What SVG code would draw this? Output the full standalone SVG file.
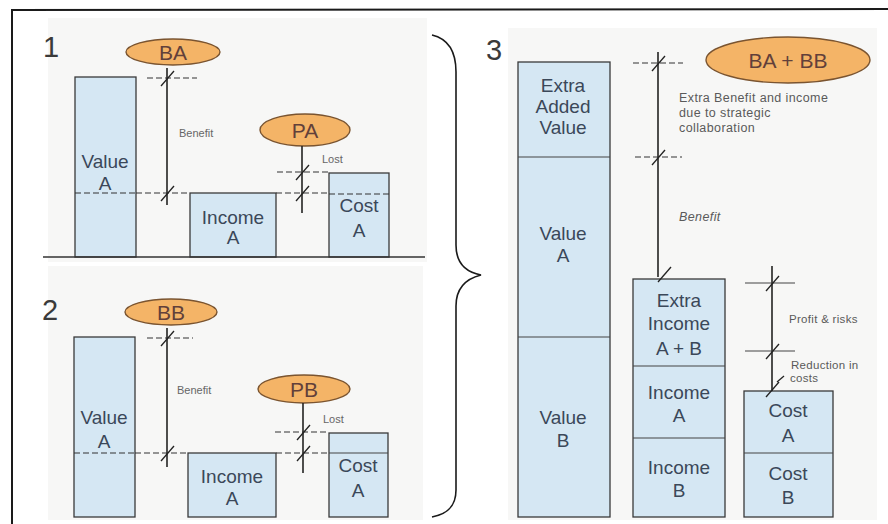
<svg xmlns="http://www.w3.org/2000/svg" width="888" height="524" viewBox="0 0 888 524">
  <style>
    .bg { fill: #f7f7f6; }
    .bar { fill: #d5e7f3; stroke: #3a3a3a; stroke-width: 1.3; }
    .div { stroke: #444; stroke-width: 1.2; fill: none; }
    .dash { stroke: #333; stroke-width: 1.1; stroke-dasharray: 6 3; fill: none; }
    .dim { stroke: #222; stroke-width: 1.6; fill: none; }
    .tick { stroke: #222; stroke-width: 1.3; fill: none; }
    .oval { fill: #f4b467; stroke: #7a5430; stroke-width: 1.4; }
    .ovt { font-family: "Liberation Sans", Arial, sans-serif; font-size: 21px; fill: #62403a; text-anchor: middle; }
    .bt { font-family: "Liberation Sans", Arial, sans-serif; font-size: 19px; fill: #3b4859; text-anchor: middle; }
    .num { font-family: "Liberation Sans", Arial, sans-serif; font-size: 29px; fill: #3a3a3a; }
    .sm { font-family: "Liberation Sans", Arial, sans-serif; font-size: 11px; fill: #666; }
    .md { font-family: "Liberation Sans", Arial, sans-serif; font-size: 12.5px; fill: #5a5a5a; letter-spacing: 0.4px; }
    .lb { font-family: "Liberation Sans", Arial, sans-serif; font-size: 11.5px; fill: #5a5a5a; letter-spacing: 0.3px; }
    .frame { stroke: #1a1a1a; stroke-width: 2; fill: none; }
  </style>
  <defs>
    <!-- dimension tick: short slash through a crossing point -->
    <path id="slash" d="M -6 8 L 7 -7" class="tick"/>
  </defs>

  <rect width="888" height="524" fill="#ffffff"/>

  <!-- panel backgrounds -->
  <rect class="bg" x="48" y="18" width="379" height="244"/>
  <rect class="bg" x="48" y="266" width="375" height="254"/>
  <rect class="bg" x="508" y="28" width="369" height="492"/>

  <!-- outer frame -->
  <g id="frame">
    <path class="frame" d="M 12 524 L 12 10 L 888 9"/>
  </g>

  <!-- brace joining panels 1 and 2 into panel 3 -->
  <g id="brace">
    <path d="M 432 35 C 449 39 456 52 456 72 L 456 245 C 456 262 465 272 481 275 C 465 279 456 289 456 306 L 456 490 C 456 506 448 514 432 517" fill="none" stroke="#1a1a1a" stroke-width="1.6"/>
  </g>

  <!-- ========== Panel 1 ========== -->
  <text class="num" x="43" y="57">1</text>

  <g id="p1-value-a">
    <rect class="bar" x="75" y="77" width="61" height="180"/>
    <line class="dash" x1="75" y1="193" x2="136" y2="193"/>
    <text class="bt" x="105" y="168">Value</text>
    <text class="bt" x="105" y="190">A</text>
  </g>
  <g id="p1-income-a">
    <rect class="bar" x="190" y="193" width="86" height="64"/>
    <text class="bt" x="233" y="224">Income</text>
    <text class="bt" x="233" y="244">A</text>
  </g>
  <g id="p1-cost-a">
    <rect class="bar" x="329" y="173" width="60" height="84"/>
    <line class="dash" x1="329" y1="194" x2="389" y2="194"/>
    <text class="bt" x="359" y="212">Cost</text>
    <text class="bt" x="359" y="237">A</text>
  </g>
  <g id="p1-ba">
    <ellipse class="oval" cx="173" cy="52" rx="47" ry="13"/>
    <text class="ovt" x="173" y="60">BA</text>
  </g>
  <g id="p1-pa">
    <ellipse class="oval" cx="305" cy="130" rx="45" ry="16"/>
    <text class="ovt" x="305" y="138">PA</text>
  </g>
  <g id="p1-connectors">
    <line x1="43" y1="257" x2="425" y2="257" stroke="#333" stroke-width="1.3"/>
    <line class="dim" x1="167" y1="68" x2="167" y2="205"/>
    <line class="dash" x1="147" y1="78" x2="197" y2="78"/>
    <line class="dash" x1="136" y1="193" x2="190" y2="193"/>
    <use href="#slash" x="167" y="78"/>
    <use href="#slash" x="167" y="193"/>
    <line class="dim" x1="302" y1="146" x2="302" y2="213"/>
    <line class="dash" x1="277" y1="172" x2="329" y2="172"/>
    <line class="dash" x1="276" y1="193" x2="329" y2="193"/>
    <use href="#slash" x="302" y="172"/>
    <use href="#slash" x="302" y="193"/>
  </g>
  <text class="sm" x="179" y="137">Benefit</text>
  <text class="sm" x="322" y="163">Lost</text>

  <!-- ========== Panel 2 ========== -->
  <text class="num" x="42" y="320">2</text>

  <g id="p2-value-a">
    <rect class="bar" x="74" y="337" width="61" height="180"/>
    <line class="dash" x1="74" y1="453" x2="135" y2="453"/>
    <text class="bt" x="104" y="424">Value</text>
    <text class="bt" x="104" y="448">A</text>
  </g>
  <g id="p2-income-a">
    <rect class="bar" x="188" y="453" width="88" height="64"/>
    <text class="bt" x="232" y="483">Income</text>
    <text class="bt" x="232" y="505">A</text>
  </g>
  <g id="p2-cost-a">
    <rect class="bar" x="329" y="433" width="59" height="84"/>
    <line class="div" x1="329" y1="453" x2="388" y2="453"/>
    <text class="bt" x="358" y="472">Cost</text>
    <text class="bt" x="358" y="497">A</text>
  </g>
  <g id="p2-bb">
    <ellipse class="oval" cx="171" cy="312" rx="46" ry="13"/>
    <text class="ovt" x="171" y="320">BB</text>
  </g>
  <g id="p2-pb">
    <ellipse class="oval" cx="304" cy="389" rx="46" ry="14"/>
    <text class="ovt" x="304" y="397">PB</text>
  </g>
  <g id="p2-connectors">
    <line class="dim" x1="167" y1="328" x2="167" y2="467"/>
    <line class="dash" x1="147" y1="338" x2="193" y2="338"/>
    <line class="dash" x1="135" y1="453" x2="188" y2="453"/>
    <use href="#slash" x="167" y="338"/>
    <use href="#slash" x="167" y="453"/>
    <line class="dim" x1="303" y1="403" x2="303" y2="473"/>
    <line class="dash" x1="275" y1="432" x2="329" y2="432"/>
    <line class="dash" x1="276" y1="453" x2="329" y2="453"/>
    <use href="#slash" x="303" y="432"/>
    <use href="#slash" x="303" y="453"/>
  </g>
  <text class="sm" x="177" y="394">Benefit</text>
  <text class="sm" x="323" y="423">Lost</text>

  <!-- ========== Panel 3 ========== -->
  <text class="num" x="486" y="60">3</text>

  <g id="p3-value">
    <rect class="bar" x="518" y="62" width="92" height="455"/>
    <line class="div" x1="518" y1="157" x2="610" y2="157"/>
    <line class="div" x1="518" y1="337" x2="610" y2="337"/>
    <text class="bt" x="563" y="92">Extra</text>
    <text class="bt" x="563" y="113">Added</text>
    <text class="bt" x="563" y="134">Value</text>
    <text class="bt" x="563" y="240">Value</text>
    <text class="bt" x="563" y="262">A</text>
    <text class="bt" x="563" y="424">Value</text>
    <text class="bt" x="563" y="447">B</text>
  </g>
  <g id="p3-income">
    <rect class="bar" x="633" y="279" width="92" height="238"/>
    <line class="div" x1="633" y1="366" x2="725" y2="366"/>
    <line class="div" x1="633" y1="438" x2="725" y2="438"/>
    <text class="bt" x="679" y="307">Extra</text>
    <text class="bt" x="679" y="330">Income</text>
    <text class="bt" x="679" y="355">A + B</text>
    <text class="bt" x="679" y="399">Income</text>
    <text class="bt" x="679" y="422">A</text>
    <text class="bt" x="679" y="474">Income</text>
    <text class="bt" x="679" y="497">B</text>
  </g>
  <g id="p3-cost">
    <rect class="bar" x="744" y="391" width="89" height="126"/>
    <line class="div" x1="744" y1="453" x2="833" y2="453"/>
    <text class="bt" x="788" y="417">Cost</text>
    <text class="bt" x="788" y="442">A</text>
    <text class="bt" x="788" y="480">Cost</text>
    <text class="bt" x="788" y="504">B</text>
  </g>
  <g id="p3-babb">
    <ellipse class="oval" cx="788" cy="60" rx="82" ry="23"/>
    <text class="ovt" x="788" y="68">BA + BB</text>
  </g>
  <g id="p3-connectors">
    <line class="dim" x1="658" y1="52" x2="658" y2="277"/>
    <line class="dash" x1="633" y1="63" x2="683" y2="63"/>
    <line class="dash" x1="635" y1="157" x2="682" y2="157"/>
    <use href="#slash" x="658" y="63"/>
    <use href="#slash" x="658" y="157"/>
    <use href="#slash" x="664" y="274"/>
    <line class="dim" x1="772" y1="266" x2="772" y2="391"/>
    <line class="div" x1="745" y1="283" x2="795" y2="283"/>
    <line class="div" x1="745" y1="351" x2="795" y2="351"/>
    <use href="#slash" x="772" y="283"/>
    <use href="#slash" x="772" y="351"/>
    <use href="#slash" x="772" y="389"/>
    <line class="tick" x1="777" y1="382" x2="784" y2="376"/>
  </g>
  <text class="md" x="679" y="102">Extra Benefit and income</text>
  <text class="md" x="679" y="117">due to strategic</text>
  <text class="md" x="679" y="132">collaboration</text>
  <text class="md" x="679" y="221" font-style="italic">Benefit</text>
  <text class="lb" x="789" y="323">Profit &amp; risks</text>
  <text class="lb" x="791" y="369">Reduction in</text>
  <text class="lb" x="790" y="382">costs</text>
</svg>
